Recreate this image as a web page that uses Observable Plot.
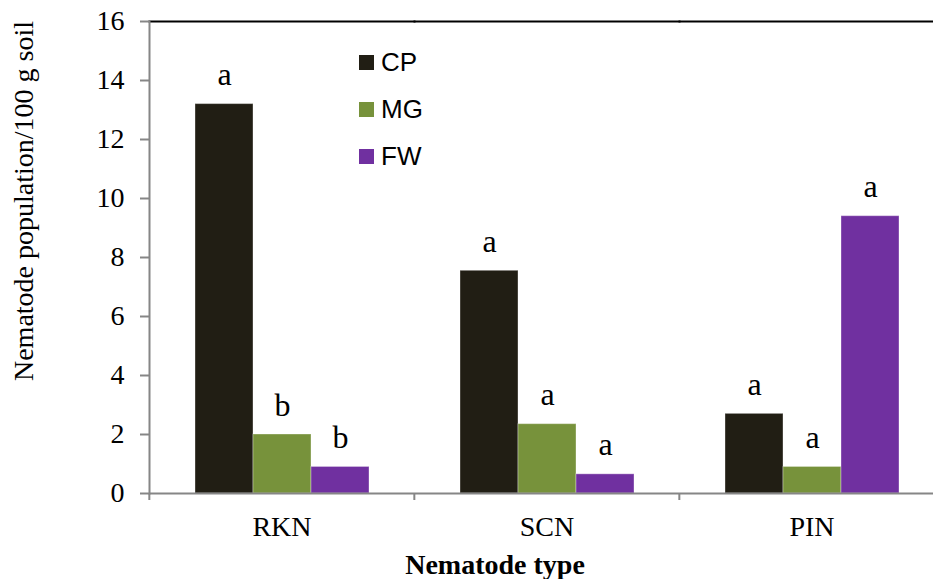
<!DOCTYPE html>
<html>
<head>
<meta charset="utf-8">
<script src="https://cdn.jsdelivr.net/npm/d3@7"></script>
<script src="https://cdn.jsdelivr.net/npm/@observablehq/plot@0.6"></script>
<style>
  html, body { margin: 0; padding: 0; background: #fff; }
  #wrap { position: relative; width: 933px; height: 579px; overflow: hidden; }
  #wrap svg { max-width: none !important; }
  #legend { position: absolute; left: 359px; top: 39px; font-family: "Liberation Sans", Arial, sans-serif; font-size: 26px; color: #000; }
  #legend .item { display: flex; align-items: center; height: 47px; }
  #legend .sw { width: 15px; height: 15px; margin-right: 7px; }
</style>
</head>
<body>
<div id="wrap"></div>
<script>
// Nematode populations per 100 g soil by treatment
const nematodes = ["RKN", "SCN", "PIN"];
const treatments = ["CP", "MG", "FW"];
const treatmentColors = ["#211e14", "#77923b", "#7030a0"];
const cpValues = [13.2, 7.55, 2.7];
const mgValues = [2.0, 2.35, 0.9];
const fwValues = [0.9, 0.65, 9.4];
const cpLetters = ["a", "a", "a"];
const mgLetters = ["b", "a", "a"];
const fwLetters = ["b", "a", "a"];
const yTicks = [0, 2, 4, 6, 8, 10, 12, 14, 16];
const yTitle = "Nematode population/100 g soil";
const xTitle = "Nematode type";

const seriesValues = [cpValues, mgValues, fwValues];
const seriesLetters = [cpLetters, mgLetters, fwLetters];
const rows = [];
nematodes.forEach((n, i) => {
  treatments.forEach((t, j) => {
    rows.push({nematode: n, treatment: t, value: seriesValues[j][i], letter: seriesLetters[j][i]});
  });
});

const width = 944, height = 579;
const marginLeft = 148, marginRight = 0, marginTop = 21, marginBottom = 86;
const groupStep = (width - marginLeft - marginRight) / nematodes.length;
const serif = "'Liberation Serif', 'Times New Roman', serif";
const axisGray = "#868686";

const chart = Plot.plot({
  width, height, marginLeft, marginRight, marginTop, marginBottom,
  facet: {marginTop: 0, marginBottom: 0, marginLeft: 0, marginRight: 0},
  style: {fontFamily: serif, fontSize: "28px", color: "#000", background: "#fff", maxWidth: "none"},
  fx: {domain: nematodes, padding: 0, label: null, axis: null},
  x: {domain: treatments, paddingInner: 0, paddingOuter: 0.76, axis: null},
  y: {domain: [0, 16], label: null, axis: null},
  color: {domain: treatments, range: treatmentColors},
  marks: [
    Plot.frame({anchor: "top", stroke: "#000", strokeWidth: 2}),
    Plot.barY(rows, {fx: "nematode", x: "treatment", y: "value", fill: "treatment",
      stroke: "#fff", strokeOpacity: 0.35, strokeWidth: 1}),
    Plot.ruleY([0], {stroke: axisGray, strokeWidth: 2}),
    Plot.frame({anchor: "left", facetAnchor: "left", stroke: axisGray, strokeWidth: 2}),
    Plot.axisY({ticks: yTicks, tickSize: 9, tickPadding: 16, stroke: axisGray, strokeWidth: 2,
      strokeOpacity: 1, fontSize: 28, label: null}),
    // category labels
    Plot.axisFx({anchor: "bottom", tickSize: 0, tickPadding: 23, fontSize: 28, label: null}),
    // boundary ticks between categories
    Plot.axisFx({anchor: "bottom", tickSize: 7, tickFormat: () => "", dx: -groupStep / 2,
      stroke: axisGray, strokeWidth: 2, strokeOpacity: 1, label: null}),
    Plot.text(rows, {fx: "nematode", x: "treatment", y: "value", text: "letter",
      dy: -19, lineAnchor: "bottom", fontSize: 32, fontFamily: serif, fill: "#000"})
  ]
});
chart.style.maxWidth = "none";

const svg = d3.select(chart);
svg.append("text")
  .attr("transform", "translate(33,201) rotate(-90)")
  .attr("text-anchor", "middle")
  .attr("font-family", serif)
  .attr("font-size", 28)
  .attr("fill", "#000")
  .text(yTitle);
svg.append("text")
  .attr("x", 495).attr("y", 574)
  .attr("text-anchor", "middle")
  .attr("font-family", serif)
  .attr("font-size", 28)
  .attr("font-weight", "bold")
  .attr("fill", "#000")
  .text(xTitle);

const wrap = document.getElementById("wrap");
wrap.appendChild(chart);

// legend
const legend = document.createElement("div");
legend.id = "legend";
treatments.forEach((t, i) => {
  const item = document.createElement("div");
  item.className = "item";
  const sw = document.createElement("span");
  sw.className = "sw";
  sw.style.background = treatmentColors[i];
  const label = document.createElement("span");
  label.textContent = t;
  item.appendChild(sw);
  item.appendChild(label);
  legend.appendChild(item);
});
wrap.appendChild(legend);
</script>
</body>
</html>
